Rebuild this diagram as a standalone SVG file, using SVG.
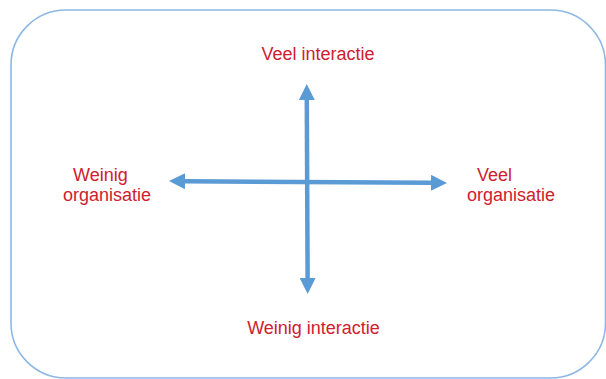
<svg xmlns="http://www.w3.org/2000/svg" width="606" height="379" viewBox="0 0 606 379">
  <style>
    .lbl { font-family: "Liberation Sans", Arial, sans-serif; font-size: 18px; fill: #CF2030; }
    .axis { stroke: #5B9BD5; stroke-width: 4.5; fill: none; marker-start: url(#head); marker-end: url(#head); }
  </style>
  <defs>
    <marker id="head" markerUnits="userSpaceOnUse" markerWidth="16" markerHeight="16" refX="0" refY="7.5" orient="auto-start-reverse" viewBox="0 0 15 15">
      <path d="M0,0 L15,7.5 L0,15 z" fill="#5B9BD5"/>
    </marker>
  </defs>
  <rect id="frame" x="11" y="10" width="594.5" height="368" rx="55" ry="55" fill="#FFFFFF" stroke="#8DB8E3" stroke-width="1.6"/>
  <g id="connectors">
    <line class="axis" x1="185" y1="181.2" x2="431" y2="182.8"/>
    <line class="axis" x1="306.8" y1="100" x2="307.6" y2="278"/>
  </g>
  <g id="veel-interactie">
    <text class="lbl" x="318" y="60" text-anchor="middle">Veel interactie</text>
  </g>
  <g id="weinig-interactie">
    <text class="lbl" x="313.5" y="334" text-anchor="middle">Weinig interactie</text>
  </g>
  <g id="weinig-organisatie">
    <text class="lbl" x="73" y="181">Weinig</text>
    <text class="lbl" x="63" y="201">organisatie</text>
  </g>
  <g id="veel-organisatie">
    <text class="lbl" x="477" y="181">Veel</text>
    <text class="lbl" x="467" y="201">organisatie</text>
  </g>
</svg>
